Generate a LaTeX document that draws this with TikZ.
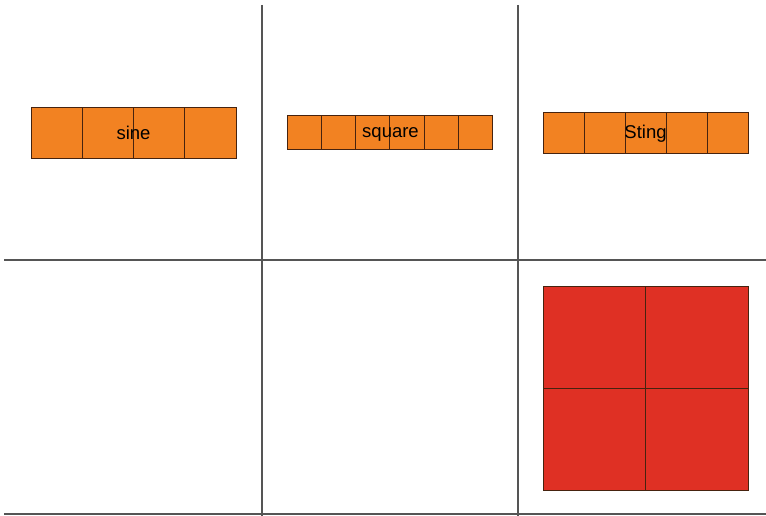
\documentclass[tikz,border=0pt]{standalone}
\usepackage{fontspec}
\setmainfont{Liberation Sans}
\definecolor{orangefill}{RGB}{242,130,34}
\definecolor{redfill}{RGB}{223,48,36}
\definecolor{cellline}{RGB}{70,35,15}
\definecolor{gridline}{RGB}{85,85,85}
\begin{document}
\begin{tikzpicture}[x=1pt,y=-1pt,
  gridrule/.style={draw=gridline, line width=1.3pt},
  cellbox/.style={draw=cellline, line width=0.9pt, inner sep=0pt, outer sep=0pt, anchor=north west},
  orangecell/.style={cellbox, fill=orangefill},
  redcell/.style={cellbox, fill=redfill},
  lbl/.style={inner sep=0pt, anchor=base, font=\fontsize{18.5}{20}\selectfont, text=black}]
\useasboundingbox (0,0) rectangle (766,516);
% grid
\coordinate (v1t) at (262,5);
\coordinate (v1b) at (262,516);
\coordinate (v2t) at (518,5);
\coordinate (v2b) at (518,516);
\coordinate (h1l) at (4,260);
\coordinate (h1r) at (766,260);
\coordinate (h2l) at (4,514);
\coordinate (h2r) at (766,514);
\draw[gridrule] (v1t) -- (v1b);
\draw[gridrule] (v2t) -- (v2b);
\draw[gridrule] (h1l) -- (h1r);
\draw[gridrule] (h2l) -- (h2r);
% sine: 4 cells
\foreach \i in {0,...,3}{
  \node[orangecell, minimum width=51.25pt, minimum height=51pt] (sine\i) at ({31+51.25*\i},107) {};
}
\node[lbl] (sinelbl) at (133.5,140) {sine};
% square: 6 cells
\foreach \i in {0,...,5}{
  \node[orangecell, minimum width=34.17pt, minimum height=34pt] (sq\i) at ({287.3+34.17*\i},115.7) {};
}
\node[lbl] (sqlbl) at (390.5,137.5) {square};
% Sting: 5 cells
\foreach \i in {0,...,4}{
  \node[orangecell, minimum width=41.06pt, minimum height=41.3pt] (st\i) at ({543+41.06*\i},112) {};
}
\node[lbl] (stlbl) at (645.5,138.5) {Sting};
% red 2x2
\node[redcell, minimum width=102.5pt, minimum height=102pt] (r00) at (543.3,286) {};
\node[redcell, minimum width=102.5pt, minimum height=102pt] (r01) at (645.8,286) {};
\node[redcell, minimum width=102.5pt, minimum height=102pt] (r10) at (543.3,388) {};
\node[redcell, minimum width=102.5pt, minimum height=102pt] (r11) at (645.8,388) {};
\end{tikzpicture}
\end{document}
